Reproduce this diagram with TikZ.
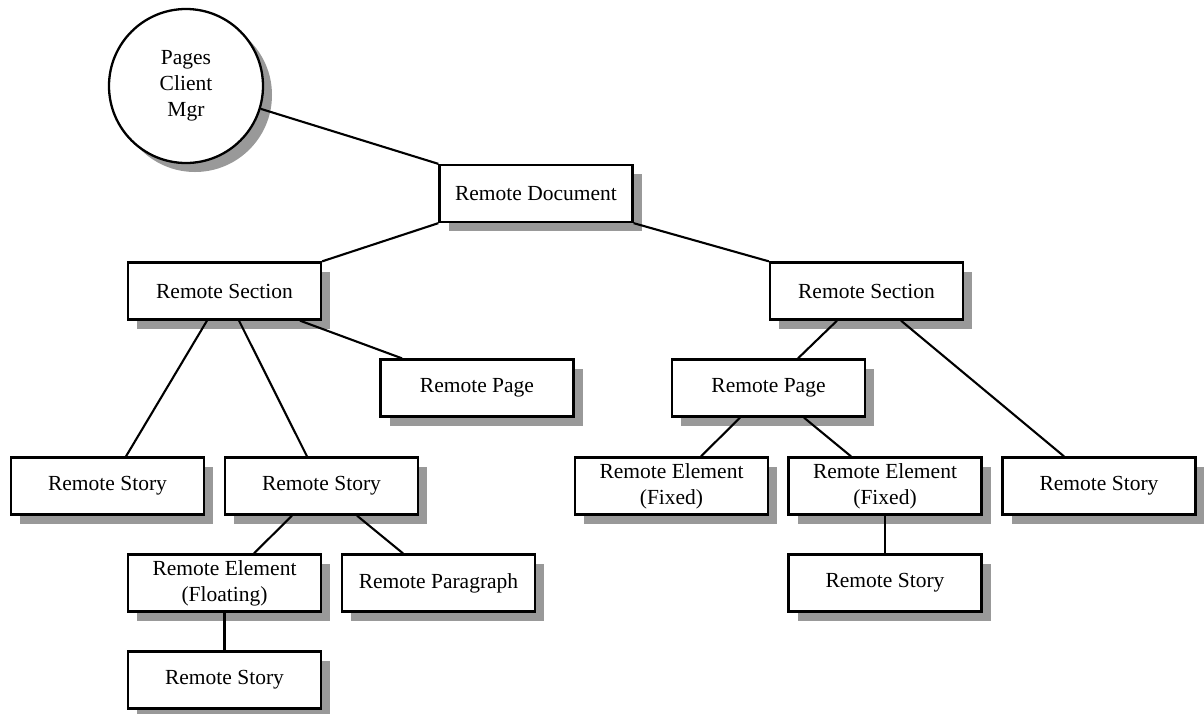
\documentclass[tikz,border=0pt]{standalone}
\usepackage{fontspec}
\setmainfont{Liberation Serif}
\usetikzlibrary{shadows}
\tikzset{
	remote/.style={draw, line width=2.3pt, fill=white, minimum width=193pt, minimum height=57pt, inner sep=0pt, align=center, font=\fontsize{21.5}{26}\selectfont, drop shadow={shadow xshift=9pt, shadow yshift=-9pt, fill=black!40, opacity=1}},
	mgrcircle/.style={remote, circle, minimum size=154pt},
	link/.style={line width=2.1pt}
}

\begin{document}
\begin{tikzpicture}[x=1pt, y=-1pt]
			%%%%% START %%%%%
			
			\useasboundingbox (0, 0) rectangle (1204, 713);
			
			\node[mgrcircle] (mgr) at (186, 86) {Pages\\Client\\Mgr};
			\node[remote] (doc) at (536, 193.5) {Remote Document};
			
			\node[remote] (secL) at (224.5, 291) {Remote Section};
			\node[remote] (secR) at (866.5, 291) {Remote Section};
			
			\node[remote] (pageL) at (477, 388) {Remote Page};
			\node[remote] (pageR) at (768.5, 388) {Remote Page};
			
			\node[remote] (storyA) at (107.5, 486) {Remote Story};
			\node[remote] (storyB) at (321.5, 486) {Remote Story};
			\node[remote] (fixA) at (671.5, 486) {Remote Element\\(Fixed)};
			\node[remote] (fixB) at (885, 486) {Remote Element\\(Fixed)};
			\node[remote] (storyR) at (1099, 486) {Remote Story};
			
			\node[remote] (float) at (224.5, 583) {Remote Element\\(Floating)};
			\node[remote] (para) at (438.5, 583) {Remote Paragraph};
			\node[remote] (storyD) at (885, 583) {Remote Story};
			
			\node[remote] (storyC) at (224.5, 680) {Remote Story};
			
			\draw[link] (mgr.-17) -- (doc.north west);
			\draw[link] (doc.south west) -- (secL.north east);
			\draw[link] (doc.south east) -- (secR.north west);
			
			\draw[link] ([xshift=-17.5pt]secL.south) -- ([xshift=18.5pt]storyA.north);
			\draw[link] ([xshift=14.5pt]secL.south) -- ([xshift=-14.5pt]storyB.north);
			\draw[link] ([xshift=75.5pt]secL.south) -- ([xshift=-75pt]pageL.north);
			
			\draw[link] ([xshift=-29.5pt]storyB.south) -- ([xshift=29.5pt]float.north);
			\draw[link] ([xshift=35.5pt]storyB.south) -- ([xshift=-35.5pt]para.north);
			\draw[link] (float.south) -- (storyC.north);
			
			\draw[link] ([xshift=-29.5pt]secR.south) -- ([xshift=29.5pt]pageR.north);
			\draw[link] ([xshift=34.5pt]secR.south) -- ([xshift=-35pt]storyR.north);
			\draw[link] ([xshift=-28.5pt]pageR.south) -- ([xshift=29.5pt]fixA.north);
			\draw[link] ([xshift=35.5pt]pageR.south) -- ([xshift=-34pt]fixB.north);
			\draw[link] (fixB.south) -- (storyD.north);
			
			%%%%% END %%%%%
\end{tikzpicture}
\end{document}
